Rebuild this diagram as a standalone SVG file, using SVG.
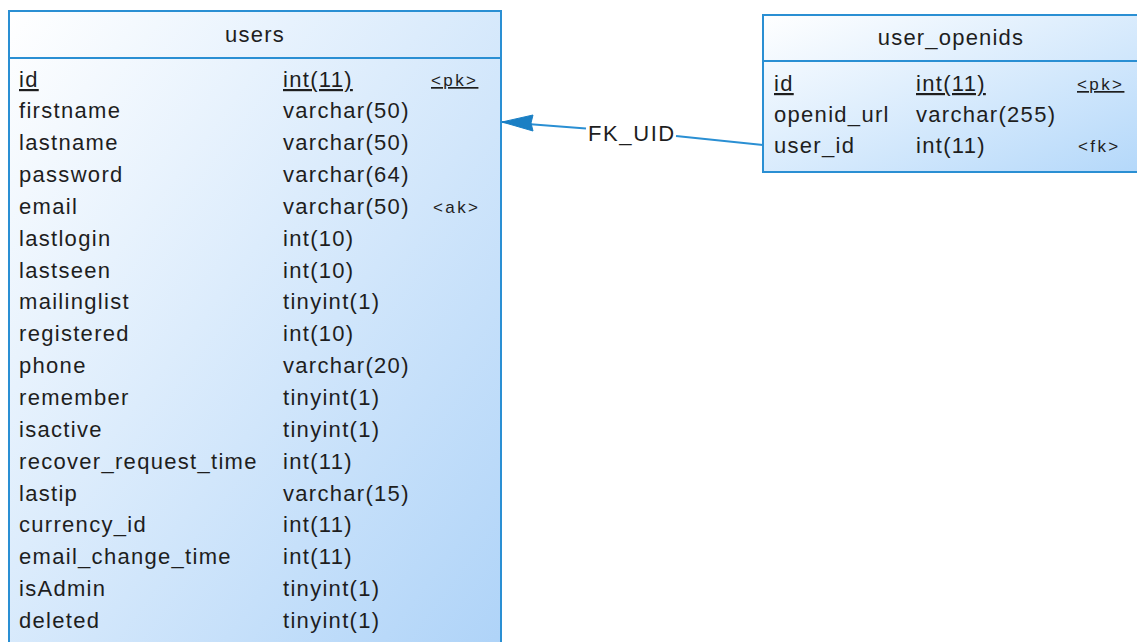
<svg xmlns="http://www.w3.org/2000/svg" width="1137" height="642" viewBox="0 0 1137 642">
  <style>
    .box { stroke: #2a8fd3; stroke-width: 2; }
    .sep { stroke: #2a8fd3; stroke-width: 2; }
    text { font-family: "Liberation Sans", Arial, sans-serif; fill: #1e1e1e; }
    .title { font-size: 22px; letter-spacing: 1.2px; text-anchor: middle; }
    .col { font-size: 22px; letter-spacing: 1.3px; }
    .key { font-size: 17px; letter-spacing: 2.4px; }
    .u { text-decoration: underline; }
    .conn { stroke: #2a8fd3; stroke-width: 2; fill: none; }
    .lbl { font-size: 22px; letter-spacing: 1.6px; }
  </style>
  <defs>
    <linearGradient id="tableFill" x1="0" y1="0" x2="1" y2="1">
      <stop offset="0" stop-color="#ffffff"/>
      <stop offset="1" stop-color="#aed3f8"/>
    </linearGradient>
    <linearGradient id="tableFill2" x1="0" y1="0" x2="1" y2="1">
      <stop offset="0" stop-color="#ffffff"/>
      <stop offset="1" stop-color="#b4d8fa"/>
    </linearGradient>
  </defs>
  <rect width="1137" height="642" fill="#ffffff"/>

  <!-- connectors -->
  <g id="connectors">
    <path class="conn" d="M 502 122 L 586 128.5"/>
    <path class="conn" d="M 676 136 L 763 145"/>
    <polygon points="502,122 533,115 531,123 533,131" fill="#1a7fc4" stroke="#1a7fc4" stroke-width="1"/>
    <text class="lbl" x="588" y="141">FK_UID</text>
  </g>

  <!-- users table -->
  <g id="users">
    <rect class="box" x="9" y="11" width="492" height="650" fill="url(#tableFill)"/>
    <line class="sep" x1="9" y1="58" x2="501" y2="58"/>
    <text class="title" x="255" y="42">users</text>
    <g class="col">
      <text class="col u" x="19" y="87">id</text>
      <text class="col u" x="283" y="87">int(11)</text>
      <text class="key u" x="431" y="86">&lt;pk&gt;</text>
      <text class="col" x="19" y="118">firstname</text><text class="col" x="283" y="118">varchar(50)</text>
      <text class="col" x="19" y="150">lastname</text><text class="col" x="283" y="150">varchar(50)</text>
      <text class="col" x="19" y="182">password</text><text class="col" x="283" y="182">varchar(64)</text>
      <text class="col" x="19" y="214">email</text><text class="col" x="283" y="214">varchar(50)</text>
      <text class="key" x="433" y="213">&lt;ak&gt;</text>
      <text class="col" x="19" y="246">lastlogin</text><text class="col" x="283" y="246">int(10)</text>
      <text class="col" x="19" y="278">lastseen</text><text class="col" x="283" y="278">int(10)</text>
      <text class="col" x="19" y="309">mailinglist</text><text class="col" x="283" y="309">tinyint(1)</text>
      <text class="col" x="19" y="341">registered</text><text class="col" x="283" y="341">int(10)</text>
      <text class="col" x="19" y="373">phone</text><text class="col" x="283" y="373">varchar(20)</text>
      <text class="col" x="19" y="405">remember</text><text class="col" x="283" y="405">tinyint(1)</text>
      <text class="col" x="19" y="437">isactive</text><text class="col" x="283" y="437">tinyint(1)</text>
      <text class="col" x="19" y="469">recover_request_time</text><text class="col" x="283" y="469">int(11)</text>
      <text class="col" x="19" y="501">lastip</text><text class="col" x="283" y="501">varchar(15)</text>
      <text class="col" x="19" y="532">currency_id</text><text class="col" x="283" y="532">int(11)</text>
      <text class="col" x="19" y="564">email_change_time</text><text class="col" x="283" y="564">int(11)</text>
      <text class="col" x="19" y="596">isAdmin</text><text class="col" x="283" y="596">tinyint(1)</text>
      <text class="col" x="19" y="628">deleted</text><text class="col" x="283" y="628">tinyint(1)</text>
    </g>
  </g>

  <!-- user_openids table -->
  <g id="user_openids">
    <rect class="box" x="763" y="15" width="376" height="157" fill="url(#tableFill2)"/>
    <line class="sep" x1="763" y1="61" x2="1139" y2="61"/>
    <text class="title" x="951" y="45">user_openids</text>
    <text class="col u" x="774" y="91">id</text>
    <text class="col u" x="916" y="91">int(11)</text>
    <text class="key u" x="1077" y="90">&lt;pk&gt;</text>
    <text class="col" x="774" y="122">openid_url</text>
    <text class="col" x="916" y="122">varchar(255)</text>
    <text class="col" x="774" y="153">user_id</text>
    <text class="col" x="916" y="153">int(11)</text>
    <text class="key" x="1078" y="152">&lt;fk&gt;</text>
  </g>
</svg>
